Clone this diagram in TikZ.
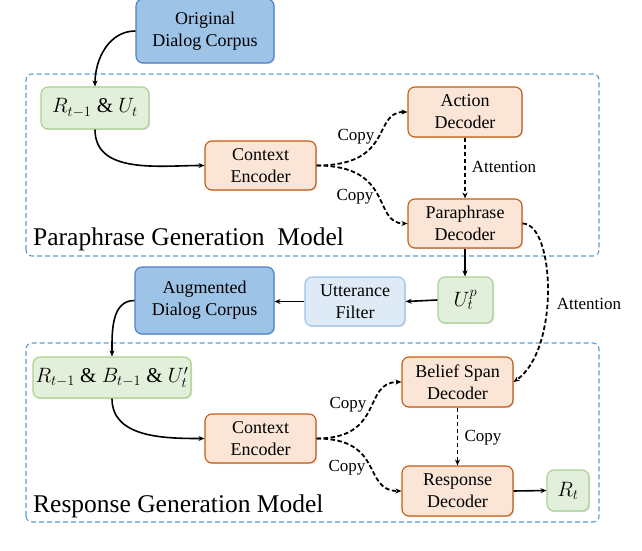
\documentclass[tikz,border=0pt]{standalone}
\usepackage{fontspec}
\setmainfont{Liberation Serif}
\usetikzlibrary{arrows.meta,shadows}
\definecolor{bluefill}{HTML}{9DC3E6}
\definecolor{blueedge}{HTML}{4F7EC8}
\definecolor{greenfill}{HTML}{E2EFDA}
\definecolor{greenedge}{HTML}{A9D18E}
\definecolor{orangefill}{HTML}{FBE5D6}
\definecolor{orangeedge}{HTML}{C55A11}
\definecolor{lightfill}{HTML}{DEEBF7}
\definecolor{lightedge}{HTML}{9DC3E6}
\definecolor{dashblue}{HTML}{5B9BD5}
\begin{document}
\begin{tikzpicture}[x=1pt,y=1pt,
  box/.style={rounded corners=7pt, line width=1.1pt, align=center, inner sep=0pt,
    font=\fontsize{18}{22}\selectfont,
    drop shadow={shadow xshift=1.2pt, shadow yshift=-1.2pt, opacity=0.25}},
  corpus/.style={box, fill=bluefill, draw=blueedge},
  vecbox/.style={box, fill=greenfill, draw=greenedge, font=\fontsize{21}{24}\selectfont},
  netbox/.style={box, fill=orangefill, draw=orangeedge},
  filtbox/.style={box, fill=lightfill, draw=lightedge},
  region/.style={draw=dashblue, dashed, dash pattern=on 5pt off 3pt, line width=1.1pt, rounded corners=6pt},
  solidarrow/.style={line width=1.6pt, -{Stealth[length=6pt,width=5pt]}},
  copyarrow/.style={line width=1.8pt, dash pattern=on 4.5pt off 2.5pt, -{Stealth[length=6pt,width=5pt]}},
  lbl/.style={font=\fontsize{17}{20}\selectfont, inner sep=0pt},
  title/.style={font=\fontsize{25.5}{30}\selectfont, inner sep=0pt, anchor=base west}
]
\useasboundingbox (0,0) rectangle (642,550);

% regions
\draw[region] (26,294) rectangle (599,476);
\draw[region] (26,28) rectangle (599,207);
\node[title] (t1) at (33,305) {Paraphrase Generation\ \ Model};
\node[title] (t2) at (33,38) {Response Generation Model};

% nodes
\node[corpus, minimum width=138pt, minimum height=64pt] (orig) at (205,519) {Original\\Dialog Corpus};
\node[vecbox, minimum width=108pt, minimum height=42pt] (ru) at (95,442) {$R_{t-1}$ \& $U_t$};
\node[netbox, minimum width=111pt, minimum height=49pt] (ce1) at (260.5,384.5) {Context\\Encoder};
\node[netbox, minimum width=114pt, minimum height=50pt] (act) at (465,438) {Action\\Decoder};
\node[netbox, minimum width=114pt, minimum height=49pt] (para) at (465,326.5) {Paraphrase\\Decoder};

\node[corpus, minimum width=139pt, minimum height=67pt] (aug) at (204.5,249.5) {Augmented\\Dialog Corpus};
\node[filtbox, minimum width=100pt, minimum height=49pt] (filt) at (355,248.5) {Utterance\\Filter};
\node[vecbox, minimum width=55pt, minimum height=46pt] (up) at (465.5,250) {$U_t^p$};

\node[vecbox, minimum width=158pt, minimum height=41pt] (rbu) at (112,172.5) {$R_{t-1}$ \& $B_{t-1}$ \& $U_t'$};
\node[netbox, minimum width=111pt, minimum height=49pt] (ce2) at (260.5,111.5) {Context\\Encoder};
\node[netbox, minimum width=111pt, minimum height=50pt] (bel) at (457.5,168) {Belief Span\\Decoder};
\node[netbox, minimum width=111pt, minimum height=50pt] (resp) at (457.5,59) {Response\\Decoder};
\node[vecbox, minimum width=42pt, minimum height=41pt] (rt) at (568,59.5) {$R_t$};

% connectors, upper model
\draw[solidarrow] (orig.west) to[out=180,in=90] (ru.north);
\draw[solidarrow] (ru.south) to[out=-90,in=180] (ce1.west);
\draw[copyarrow] (ce1.east) .. controls (395,384.5) and (372,438) .. (act.west);
\draw[copyarrow] (ce1.east) .. controls (395,384.5) and (372,326.5) .. (para.west);
\draw[copyarrow] (act.south) -- (para.north);
\node[lbl] (c1) at (356,413) {Copy};
\node[lbl] (c2) at (355,353) {Copy};
\node[lbl] (a1) at (504,383) {Attention};

% middle
\draw[solidarrow] (para.south) -- (up.north -| para.south);
\draw[solidarrow] (up.west) -- (filt.east);
\draw[solidarrow] (filt.west) -- (aug.east |- filt.west);
\draw[copyarrow] (para.east) .. controls (555,326.5) and (560,200) .. (bel.east);
\node[lbl] (a2) at (589,246) {Attention};

% lower model
\draw[solidarrow] (aug.west) to[out=180,in=90] (rbu.north);
\draw[solidarrow] (rbu.south) to[out=-90,in=180] (ce2.west);
\draw[copyarrow] (ce2.east) .. controls (385,111.5) and (362,168) .. (bel.west);
\draw[copyarrow] (ce2.east) .. controls (385,111.5) and (362,59) .. (resp.west);
\draw[copyarrow] (bel.south) -- (resp.north);
\draw[solidarrow] (resp.east) -- (rt.west);
\node[lbl] (c3) at (348,145) {Copy};
\node[lbl] (c4) at (347,82) {Copy};
\node[lbl] (c5) at (483,112) {Copy};
\end{tikzpicture}
\end{document}
